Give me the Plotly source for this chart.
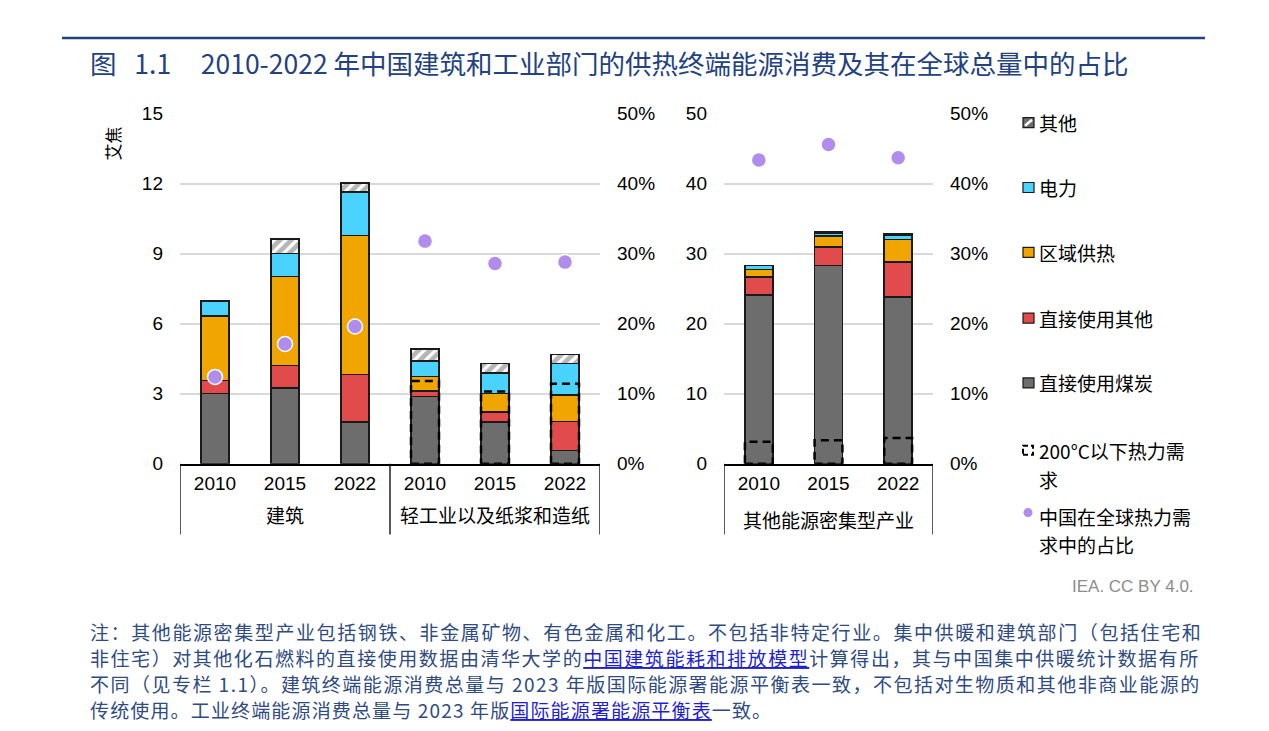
import plotly.graph_objects as go

W, H = 1269, 731

# ---------------- data ----------------
years = ["2010", "2015", "2022"]
left_groups = ["建筑", "轻工业以及纸浆和造纸"]
right_group = "其他能源密集型产业"

# left panel: buildings (3) + light industry (3), unit: EJ
left_coal = [3.02, 3.25, 1.78, 2.88, 1.78, 0.57]
left_direct_other = [0.54, 0.95, 2.05, 0.24, 0.43, 1.25]
left_district = [2.78, 3.82, 5.94, 0.61, 0.81, 1.13]
left_electricity = [0.63, 0.98, 1.87, 0.67, 0.86, 1.35]
left_other = [0.0, 0.64, 0.38, 0.51, 0.41, 0.39]
left_below200 = [None, None, None, 3.55, 3.09, 3.43]
left_share = [0.124, 0.171, 0.196, 0.318, 0.286, 0.288]

# right panel: other energy-intensive industries
right_coal = [24.07, 28.35, 23.79]
right_direct_other = [2.61, 2.61, 5.03]
right_district = [1.05, 1.54, 3.18]
right_electricity = [0.57, 0.45, 0.70]
right_other = [0.05, 0.15, 0.20]
right_below200 = [3.13, 3.37, 3.66]
right_share = [0.434, 0.456, 0.437]

left_ticks = [0, 3, 6, 9, 12, 15]
right_ticks = [0, 10, 20, 30, 40, 50]
pct_ticks = [0, 0.1, 0.2, 0.3, 0.4, 0.5]

series_names = ["直接使用煤炭", "直接使用其他", "区域供热", "电力", "其他"]
legend_order = ["其他", "电力", "区域供热", "直接使用其他", "直接使用煤炭"]

# ---------------- style ----------------
C_GRAY = "#6D6D6D"
C_RED = "#E24B4B"
C_ORANGE = "#F0A500"
C_BLUE = "#4BD3FF"
C_PURPLE = "#B08CEC"
C_EDGE = "#1A1A1A"
C_TITLE = "#23427E"
C_NOTE = "#2F4B80"
FONT_LAT = "Liberation Sans, Arial, Noto Sans CJK SC, sans-serif"
FONT_CJK = "Noto Sans CJK SC, Liberation Sans, sans-serif"
series_colors = {"直接使用煤炭": C_GRAY, "直接使用其他": C_RED, "区域供热": C_ORANGE,
                 "电力": C_BLUE, "其他": "white"}
BAR_W = 0.4

# the page is photographed slightly compressed vertically; compensate layout positions
V_SCALE, V_OFF = 0.974, 9.0


def px(x):
    return x / W


def py(y):
    return 1 - ((y - V_OFF) / V_SCALE) / H


fig = go.Figure()

left_x = list(range(len(left_coal)))
right_x = list(range(len(right_coal)))
left_series = [left_coal, left_direct_other, left_district, left_electricity, left_other]
right_series = [right_coal, right_direct_other, right_district, right_electricity, right_other]

for xs, series, xa, ya in [(left_x, left_series, "x", "y"), (right_x, right_series, "x2", "y3")]:
    for name, vals in zip(series_names, series):
        marker = dict(color=series_colors[name], line=dict(color=C_EDGE, width=1.5))
        if name == "其他":
            marker["pattern"] = dict(shape="/", fgcolor=C_GRAY, bgcolor="white",
                                     size=8, solidity=0.6)
        fig.add_trace(go.Bar(x=xs, y=vals, name=name, marker=marker, width=BAR_W,
                             xaxis=xa, yaxis=ya, showlegend=False))

# share dots
fig.add_trace(go.Scatter(x=left_x, y=left_share, mode="markers", xaxis="x", yaxis="y2",
                         marker=dict(size=15, color=C_PURPLE, line=dict(color="white", width=1.5)),
                         showlegend=False, name="中国在全球热力需求中的占比"))
fig.add_trace(go.Scatter(x=right_x, y=right_share, mode="markers", xaxis="x2", yaxis="y4",
                         marker=dict(size=15, color=C_PURPLE, line=dict(color="white", width=1.5)),
                         showlegend=False, name="中国在全球热力需求中的占比"))

shapes = []
annotations = []

# dashed boxes: heat demand below 200°C
for xs, vals, xr, yr in [(left_x, left_below200, "x", "y"), (right_x, right_below200, "x2", "y3")]:
    for xi, v in zip(xs, vals):
        if v is None:
            continue
        shapes.append(dict(type="rect", xref=xr, yref=yr, x0=xi - BAR_W / 2, x1=xi + BAR_W / 2,
                           y0=0, y1=v, line=dict(color="black", width=2.5, dash="8px,5px"),
                           fillcolor="rgba(0,0,0,0)", layer="above"))

# group dividers and labels under x axes
n = len(years)
for b in [-0.5, n - 0.5, 2 * n - 0.5]:
    shapes.append(dict(type="line", xref="x", yref="paper", x0=b, x1=b, y0=py(464), y1=py(535),
                       line=dict(color="black", width=1.3)))
for b in [-0.5, n - 0.5]:
    shapes.append(dict(type="line", xref="x2", yref="paper", x0=b, x1=b, y0=py(464), y1=py(535),
                       line=dict(color="black", width=1.3)))
for gi, g in enumerate(left_groups):
    annotations.append(dict(text=g, xref="x", yref="paper", x=gi * n + (n - 1) / 2, y=py(515),
                            showarrow=False, xanchor="center", yanchor="middle",
                            font=dict(family=FONT_CJK, size=19, color="black")))
annotations.append(dict(text=right_group, xref="x2", yref="paper", x=(n - 1) / 2, y=py(520),
                        showarrow=False, xanchor="center", yanchor="middle",
                        font=dict(family=FONT_CJK, size=19, color="black")))

# y axis unit
annotations.append(dict(text="艾焦", xref="paper", yref="paper", x=px(113), y=py(143),
                        textangle=-90, showarrow=False, xanchor="center", yanchor="middle",
                        font=dict(family=FONT_CJK, size=17, color="black")))

# title + rule
shapes.append(dict(type="line", xref="paper", yref="paper", x0=px(62), x1=px(1205),
                   y0=py(37), y1=py(37), line=dict(color=C_TITLE, width=2.5)))
NB = "\u00a0"
title_text = ("图" + NB * 3 + "1.1" + NB * 5 + "2010-2022" + NB
              + "年中国建筑和工业部门的供热终端能源消费及其在全球总量中的占比")
annotations.append(dict(text=title_text,
                        xref="paper", yref="paper", x=px(88), y=py(62), showarrow=False,
                        xanchor="left", yanchor="middle",
                        font=dict(family=FONT_CJK, size=26.5, color=C_TITLE)))

# manual legend
leg_y = {"其他": 122, "电力": 187, "区域供热": 252, "直接使用其他": 318, "直接使用煤炭": 383}
for name in legend_order:
    yc = leg_y[name]
    if name == "其他":
        shapes.append(dict(type="rect", xref="paper", yref="paper", x0=px(1023), x1=px(1034),
                           y0=py(yc + 5), y1=py(yc - 5), fillcolor=C_GRAY,
                           line=dict(color=C_EDGE, width=1.2)))
        shapes.append(dict(type="line", xref="paper", yref="paper", x0=px(1025), x1=px(1032),
                           y0=py(yc + 3), y1=py(yc - 3), line=dict(color="white", width=2.5)))
    else:
        shapes.append(dict(type="rect", xref="paper", yref="paper", x0=px(1023), x1=px(1034),
                           y0=py(yc + 5), y1=py(yc - 5), fillcolor=series_colors[name],
                           line=dict(color=C_EDGE, width=1.2)))
    annotations.append(dict(text=name, xref="paper", yref="paper", x=px(1037), y=py(yc),
                            showarrow=False, xanchor="left", yanchor="middle",
                            font=dict(family=FONT_CJK, size=19, color="black")))

shapes.append(dict(type="rect", xref="paper", yref="paper", x0=px(1023), x1=px(1033),
                   y0=py(455), y1=py(446), fillcolor="rgba(0,0,0,0)",
                   line=dict(color="black", width=2, dash="5px,3px")))
for txt, yy in [("200°C以下热力需", 451), ("求", 480)]:
    annotations.append(dict(text=txt, xref="paper", yref="paper", x=px(1037), y=py(yy),
                            showarrow=False, xanchor="left", yanchor="middle",
                            font=dict(family=FONT_CJK, size=19, color="black")))
shapes.append(dict(type="circle", xref="paper", yref="paper", x0=px(1023.5), x1=px(1032.5),
                   y0=py(517.5), y1=py(508.5), fillcolor=C_PURPLE, line=dict(width=0)))
for txt, yy in [("中国在全球热力需", 517), ("求中的占比", 545)]:
    annotations.append(dict(text=txt, xref="paper", yref="paper", x=px(1037), y=py(yy),
                            showarrow=False, xanchor="left", yanchor="middle",
                            font=dict(family=FONT_CJK, size=19, color="black")))

# source
annotations.append(dict(text="IEA. CC BY 4.0.", xref="paper", yref="paper", x=px(1196), y=py(587),
                        showarrow=False, xanchor="right", yanchor="middle",
                        font=dict(family=FONT_LAT, size=17, color="#8C8C8C")))

# footnote (lines 1-3 justified in the original, spread with letter spacing)
LINK = "<span style='color:#1F1FD0'><u>{}</u></span>"
note_lines = [
    "注：其他能源密集型产业包括钢铁、非金属矿物、有色金属和化工。不包括非特定行业。集中供暖和建筑部门（包括住宅和",
    "非住宅）对其他化石燃料的直接使用数据由清华大学的" + LINK.format("中国建筑能耗和排放模型")
    + "计算得出，其与中国集中供暖统计数据有所",
    "不同（见专栏 1.1）。建筑终端能源消费总量与 2023 年版国际能源署能源平衡表一致，不包括对生物质和其他非商业能源的",
    "传统使用。工业终端能源消费总量与 2023 年版" + LINK.format("国际能源署能源平衡表") + "一致。",
]
note_spacing = [1.6, 1.55, 1.48, 1.15]
for i, (line, ls) in enumerate(zip(note_lines, note_spacing)):
    annotations.append(dict(text="<span style='letter-spacing:%.2fpx'>%s</span>" % (ls, line),
                            xref="paper", yref="paper", x=px(88), y=py(632 + 26 * i),
                            showarrow=False, xanchor="left", yanchor="middle",
                            font=dict(family=FONT_CJK, size=19, color=C_NOTE)))

ydom = [py(464), py(113)]
axis_font = dict(family=FONT_LAT, size=19, color="black")

fig.update_layout(
    width=W, height=H,
    margin=dict(l=0, r=0, t=0, b=0),
    paper_bgcolor="white", plot_bgcolor="white",
    barmode="stack",
    showlegend=False,
    xaxis=dict(domain=[px(180), px(600)], range=[-0.5, len(left_x) - 0.5],
               tickvals=left_x, ticktext=years * len(left_groups), tickfont=axis_font,
               showline=True, linecolor="black", linewidth=1.5, ticks="", showgrid=False,
               zeroline=False, anchor="y", ticklabelstandoff=2),
    yaxis=dict(domain=ydom, range=[0, 15], tickvals=left_ticks, tickfont=axis_font,
               showgrid=True, gridcolor="#D9D9D9", gridwidth=1.5, zeroline=False,
               showline=False, ticks="", anchor="x", ticklabelstandoff=16),
    yaxis2=dict(overlaying="y", side="right", anchor="x", range=[0, 0.5], tickvals=pct_ticks,
                tickformat=".0%", tickfont=axis_font, showgrid=False, zeroline=False,
                showline=False, ticks="", ticklabelstandoff=16),
    xaxis2=dict(domain=[px(724), px(933)], range=[-0.5, len(right_x) - 0.5],
                tickvals=right_x, ticktext=years, tickfont=axis_font,
                showline=True, linecolor="black", linewidth=1.5, ticks="", showgrid=False,
                zeroline=False, anchor="y3", ticklabelstandoff=2),
    yaxis3=dict(domain=ydom, range=[0, 50], tickvals=right_ticks, tickfont=axis_font,
                showgrid=True, gridcolor="#D9D9D9", gridwidth=1.5, zeroline=False,
                showline=False, ticks="", anchor="x2", ticklabelstandoff=16),
    yaxis4=dict(overlaying="y3", side="right", anchor="x2", range=[0, 0.5], tickvals=pct_ticks,
                tickformat=".0%", tickfont=axis_font, showgrid=False, zeroline=False,
                showline=False, ticks="", ticklabelstandoff=16),
    shapes=shapes,
    annotations=annotations,
)

fig.write_html("out.html")
